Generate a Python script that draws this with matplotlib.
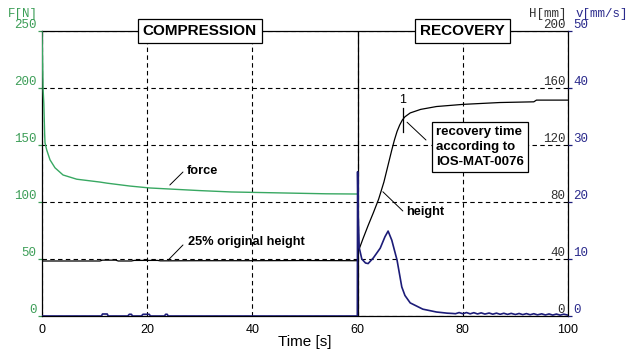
import matplotlib
matplotlib.use("Agg")
import matplotlib.pyplot as plt

# ---------------- data ----------------
force_t = [0, 0.1, 0.2, 0.35, 0.5, 0.57, 0.9, 1.52, 2.47, 4.0, 6.6, 11, 12.4, 16.7, 20.5, 30, 36, 45, 54, 60]
force_F = [250, 225, 200, 186, 160, 152, 145.6, 137, 130, 123.7, 120, 117.5, 116.5, 114, 112.3, 110, 108.8, 108, 107.2, 107]

height_t = [0, 8, 11, 11.5, 14, 14.5, 17, 17.5, 22, 22.5, 30, 40, 50, 60, 60.1, 61, 62, 63, 64, 65,
            66, 66.5, 67, 67.5, 68, 68.5, 69, 70, 72, 75, 80, 87, 93.5, 94, 100]
height_H = [38.6, 38.6, 38.6, 39.2, 39.2, 38.6, 38.6, 39.0, 39.0, 38.7, 38.8, 38.8, 38.9, 38.8, 45, 54, 63.5, 72.5, 82, 94,
            109, 116.5, 123.5, 129.5, 134, 137.5, 139.8, 142.5, 145, 147, 148.5, 149.8, 150.3, 151.5, 151.5]

vel_t = [0, 11.3, 11.5, 12.4, 12.6, 16.3, 16.6, 17.0, 17.2, 18.9, 19.2, 20.4, 20.6, 23.3, 23.5, 23.8, 24.0,
         59.95, 60.0, 60.1, 60.3, 60.8, 61.5, 62.0, 63.0, 64.3, 65.2, 65.8, 66.5, 67.5, 68.4, 69.0, 70.0,
         72.4, 75.0, 77.0, 78.0, 78.6, 79.3, 80.0, 80.7, 81.4, 82.1, 82.8, 83.5, 84.2, 85.0, 85.7, 86.4,
         87.1, 87.8, 88.5, 89.2, 90.0, 90.7, 91.4, 92.1, 92.8, 93.5, 94.2, 95.0, 95.7, 96.4, 97.1, 97.8,
         98.5, 99.2, 100]
vel_v = [0, 0, 0.35, 0.35, 0, 0, 0.3, 0.3, 0, 0, 0.3, 0.3, 0, 0, 0.3, 0.3, 0,
         0, 25.3, 18, 12, 10, 9.3, 9.2, 10.2, 11.9, 13.9, 14.9, 13.3, 9.8, 5.1, 3.6, 2.3,
         1.2, 0.7, 0.5, 0.45, 0.4, 0.6, 0.4, 0.6, 0.38, 0.58, 0.36, 0.55, 0.34, 0.52, 0.32, 0.5,
         0.3, 0.48, 0.28, 0.46, 0.26, 0.44, 0.24, 0.42, 0.22, 0.4, 0.2, 0.38, 0.18, 0.36, 0.16, 0.34,
         0.15, 0.32, 0.15]

x_ticks = [0, 20, 40, 60, 80, 100]
F_ticks = [0, 50, 100, 150, 200, 250]
H_ticks = [0, 40, 80, 120, 160, 200]
v_ticks = [0, 10, 20, 30, 40, 50]

GREEN = "#3d9e58"
FGREEN = "#38a862"
NAVY = "#1c1c78"
VLAB = "#2a2a8c"
SANS = "Liberation Sans"
MONO = "Liberation Mono"

fig = plt.figure(figsize=(6.3, 3.5), dpi=100)
ax = fig.add_axes([42 / 630, 1 - 316 / 350, (568 - 42) / 630, (316 - 31) / 350])
ax.set_xlim(0, 100)
ax.set_ylim(0, 250)
axH = ax.twinx()
axH.set_ylim(0, 200)
axV = ax.twinx()
axV.set_ylim(0, 50)

for a in (axH, axV):
    for s in a.spines.values():
        s.set_visible(False)
for s in ax.spines.values():
    s.set_linewidth(0.9)
    s.set_color("black")

# grid
ax.set_xticks(x_ticks)
ax.set_yticks(F_ticks)
ax.grid(True, color="black", linestyle=(0, (4, 3)), linewidth=0.8)
ax.axvline(60, color="black", linewidth=0.9, zorder=2.6)

# x ticks
ax.tick_params(axis="x", length=0, pad=6, labelsize=9)
for lab in ax.get_xticklabels():
    lab.set_fontfamily(SANS)
ax.set_xlabel("Time [s]", fontsize=11, fontfamily=SANS, labelpad=-1)

# left F ticks
ax.tick_params(axis="y", length=3, width=0.9, color=GREEN, labelcolor=GREEN, pad=1, labelsize=9)
for lab in ax.get_yticklabels():
    lab.set_fontfamily(MONO)
    lab.set_va("bottom")

# H ticks: inside, right-aligned
axH.set_yticks(H_ticks)
axH.tick_params(axis="y", length=0, direction="in", pad=-2, labelsize=9, labelcolor="#303030")
for lab in axH.get_yticklabels():
    lab.set_fontfamily(MONO)
    lab.set_va("bottom")
    lab.set_ha("right")

# v ticks
axV.set_yticks(v_ticks)
axV.tick_params(axis="y", length=3, width=0.9, color=NAVY, labelcolor=VLAB, pad=1, labelsize=9)
for lab in axV.get_yticklabels():
    lab.set_fontfamily(MONO)
    lab.set_va("bottom")

# axis unit labels
fig.text(38 / 630, 1 - 17 / 350, "F[N]", color=GREEN, fontfamily=MONO, fontsize=9, ha="right", va="baseline")
fig.text(567 / 630, 1 - 17 / 350, "H[mm]", color="#303030", fontfamily=MONO, fontsize=9, ha="right", va="baseline")
fig.text(628 / 630, 1 - 17 / 350, "v[mm/s]", color=VLAB, fontfamily=MONO, fontsize=9, ha="right", va="baseline")

# curves
ax.plot(force_t, force_F, color=FGREEN, linewidth=1.0, zorder=3)
axH.plot(height_t, height_H, color="black", linewidth=0.9, zorder=3)
axV.plot(vel_t, vel_v, color=NAVY, linewidth=1.2, zorder=3)

# phase boxes
box = dict(boxstyle="square,pad=0.33", fc="white", ec="black", lw=0.9)
ax.text(30, 250, "COMPRESSION", ha="center", va="center", fontsize=11, fontweight="bold",
        fontfamily=SANS, bbox=box, zorder=5, clip_on=False)
ax.text(80, 250, "RECOVERY", ha="center", va="center", fontsize=11, fontweight="bold",
        fontfamily=SANS, bbox=box, zorder=5, clip_on=False)

# annotations
ann = dict(arrowstyle="-", color="black", lw=0.7, shrinkA=0, shrinkB=0)
ax.annotate("", xy=(24.3, 114.9), xytext=(26.8, 126.3), arrowprops=ann)
ax.text(27.6, 127.6, "force", fontsize=9.2, fontweight="bold", fontfamily=SANS, va="center", ha="left")
ax.annotate("", xy=(24.0, 49.1), xytext=(26.8, 62.3), arrowprops=ann)
ax.text(27.8, 64.9, "25% original height", fontsize=9.2, fontweight="bold", fontfamily=SANS,
        va="center", ha="left")
axH.annotate("", xy=(68.6, 73.7), xytext=(64.8, 87.2), arrowprops=ann)
axH.text(69.2, 73.0, "height", fontsize=9.2, fontweight="bold", fontfamily=SANS, va="center", ha="left")

# recovery time marker
axH.plot([68.6, 68.6], [129, 146], color="black", linewidth=0.9)
axH.text(68.6, 147.5, "1", fontsize=9, fontfamily=SANS, ha="center", va="bottom")
axH.annotate("", xy=(73.0, 123.5), xytext=(69.4, 136), arrowprops=ann)
axH.text(74.9, 118.5, "recovery time\naccording to\nIOS-MAT-0076", fontsize=9.5, fontweight="bold",
         fontfamily=SANS, va="center", ha="left", linespacing=1.35,
         bbox=dict(boxstyle="square,pad=0.3", fc="white", ec="black", lw=0.9), zorder=5)

fig.savefig("out.png", dpi=100)
